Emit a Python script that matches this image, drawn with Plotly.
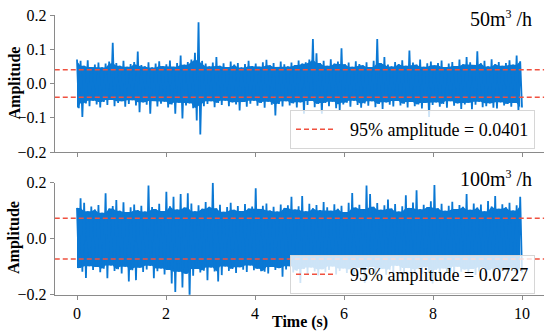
import numpy as np
import plotly.graph_objects as go

# ---------------- data ----------------
duration = 10.0
amp95 = [0.0401, 0.0727]
flow_labels = ["50m<sup><span style='font-size:12px'>3</span></sup> /h",
               "100m<sup><span style='font-size:12px'>3</span></sup> /h"]
x_ticks = [0, 2, 4, 6, 8, 10]
y_ticks_top = [-0.2, -0.1, 0.0, 0.1, 0.2]
y_ticks_bottom = [-0.2, 0.0, 0.2]

# successive positive / negative excursions of the 50 m3/h signal
top_upper = [
    0.070, 0.066, 0.052, 0.068, 0.048, 0.055, 0.061, 0.047, 0.058, 0.064,
    0.119, 0.060, 0.052, 0.066, 0.049, 0.057, 0.063, 0.093, 0.054, 0.050,
    0.062, 0.047, 0.058, 0.065, 0.051, 0.056, 0.067, 0.049, 0.060, 0.082,
    0.055, 0.063, 0.070, 0.090, 0.179, 0.066, 0.058, 0.050, 0.061, 0.077,
    0.052, 0.059, 0.048, 0.064, 0.055, 0.060, 0.047, 0.057, 0.066, 0.051,
    0.058, 0.049, 0.062, 0.069, 0.053, 0.060, 0.048, 0.064, 0.056, 0.050,
    0.061, 0.054, 0.067, 0.058, 0.062, 0.070, 0.130, 0.088, 0.060, 0.066,
    0.052, 0.071, 0.058, 0.064, 0.103, 0.056, 0.061, 0.049, 0.065, 0.057,
    0.053, 0.062, 0.048, 0.066, 0.130, 0.060, 0.077, 0.055, 0.050, 0.063,
    0.057, 0.068, 0.052, 0.096, 0.061, 0.055, 0.070, 0.049, 0.059, 0.064,
    0.053, 0.060, 0.067, 0.048, 0.058, 0.063, 0.051, 0.070, 0.056, 0.077,
    0.062, 0.054, 0.094, 0.059, 0.066, 0.050, 0.071, 0.057, 0.063, 0.052,
    0.060, 0.068, 0.055, 0.082, 0.065,
]
top_lower = [
    -0.072, -0.098, -0.058, -0.066, -0.050, -0.061, -0.070, -0.054, -0.063, -0.048,
    -0.066, -0.057, -0.052, -0.068, -0.060, -0.049, -0.064, -0.084, -0.055, -0.062,
    -0.088, -0.051, -0.067, -0.059, -0.053, -0.070, -0.061, -0.088, -0.056, -0.102,
    -0.064, -0.058, -0.072, -0.108, -0.149, -0.066, -0.060, -0.052, -0.069, -0.057,
    -0.063, -0.050, -0.066, -0.055, -0.061, -0.079, -0.054, -0.068, -0.059, -0.050,
    -0.065, -0.057, -0.071, -0.053, -0.062, -0.093, -0.060, -0.067, -0.052, -0.064,
    -0.058, -0.070, -0.055, -0.088, -0.063, -0.051, -0.069, -0.060, -0.088, -0.057,
    -0.066, -0.053, -0.072, -0.079, -0.061, -0.056, -0.068, -0.050, -0.063, -0.071,
    -0.058, -0.065, -0.052, -0.069, -0.060, -0.074, -0.055, -0.062, -0.067, -0.051,
    -0.064, -0.059, -0.070, -0.054, -0.066, -0.061, -0.073, -0.057, -0.098, -0.063,
    -0.055, -0.068, -0.060, -0.071, -0.052, -0.065, -0.058, -0.074, -0.061, -0.056,
    -0.075, -0.062, -0.053, -0.069, -0.066, -0.058, -0.071, -0.073, -0.055, -0.064,
    -0.060, -0.068, -0.057, -0.080, -0.070,
]
# successive positive / negative excursions of the 100 m3/h signal
bottom_upper = [
    0.110, 0.144, 0.128, 0.098, 0.115, 0.104, 0.120, 0.093, 0.162, 0.108,
    0.117, 0.138, 0.100, 0.130, 0.095, 0.112, 0.122, 0.102, 0.118, 0.097,
    0.190, 0.113, 0.106, 0.125, 0.099, 0.168, 0.116, 0.150, 0.104, 0.160,
    0.111, 0.162, 0.126, 0.098, 0.119, 0.107, 0.131, 0.114, 0.200, 0.109,
    0.121, 0.096, 0.113, 0.128, 0.103, 0.117, 0.099, 0.124, 0.108, 0.115,
    0.180, 0.106, 0.118, 0.126, 0.101, 0.114, 0.097, 0.122, 0.110, 0.119,
    0.150, 0.104, 0.116, 0.152, 0.098, 0.125, 0.109, 0.120, 0.102, 0.131,
    0.112, 0.100, 0.123, 0.107, 0.118, 0.095, 0.128, 0.163, 0.111, 0.121,
    0.106, 0.190, 0.160, 0.114, 0.127, 0.103, 0.119, 0.140, 0.108, 0.124,
    0.097, 0.116, 0.155, 0.110, 0.129, 0.173, 0.105, 0.121, 0.113, 0.134,
    0.192, 0.109, 0.125, 0.100, 0.118, 0.132, 0.106, 0.120, 0.114, 0.160,
    0.103, 0.126, 0.111, 0.122, 0.098, 0.135, 0.115, 0.152, 0.107, 0.123,
    0.112, 0.128, 0.101, 0.119, 0.150,
]
bottom_lower = [
    -0.105, -0.118, -0.140, -0.098, -0.112, -0.101, -0.120, -0.107, -0.141, -0.096,
    -0.115, -0.109, -0.124, -0.100, -0.153, -0.113, -0.148, -0.104, -0.119, -0.110,
    -0.097, -0.141, -0.116, -0.106, -0.128, -0.112, -0.160, -0.190, -0.118, -0.174,
    -0.125, -0.210, -0.132, -0.108, -0.121, -0.114, -0.148, -0.103, -0.117, -0.153,
    -0.130, -0.099, -0.115, -0.108, -0.122, -0.102, -0.111, -0.119, -0.096, -0.113,
    -0.107, -0.116, -0.118, -0.124, -0.101, -0.112, -0.105, -0.136, -0.110, -0.098,
    -0.121, -0.114, -0.158, -0.108, -0.126, -0.103, -0.117, -0.131, -0.109, -0.120,
    -0.112, -0.099, -0.128, -0.115, -0.106, -0.122, -0.110, -0.134, -0.104, -0.118,
    -0.158, -0.113, -0.101, -0.125, -0.116, -0.107, -0.129, -0.111, -0.120, -0.097,
    -0.114, -0.123, -0.105, -0.132, -0.118, -0.109, -0.126, -0.102, -0.119, -0.160,
    -0.112, -0.127, -0.106, -0.121, -0.115, -0.133, -0.100, -0.118, -0.110, -0.124,
    -0.108, -0.130, -0.117, -0.103, -0.122, -0.113, -0.128, -0.107, -0.119, -0.111,
    -0.125, -0.104, -0.116, -0.109, -0.121,
]

# ---------------- styling ----------------
FONT = "Liberation Serif"
BLUE = "#0a78d4"
RED = "#f0513f"
SPINE = "#8a8a8a"


def interleave(up, lo):
    y = np.empty(len(up) + len(lo))
    y[0::2] = up
    y[1::2] = lo
    t = np.linspace(0, duration, len(y))
    return t, y


def core(vals, fn):
    v = np.asarray(vals)
    prev = np.concatenate([v[:1], v[:-1]])
    nxt = np.concatenate([v[1:], v[-1:]])
    return fn(fn(v, prev), nxt)


fig = go.Figure()
panels = [
    (top_upper, top_lower, "x", "y", "legend"),
    (bottom_upper, bottom_lower, "x2", "y2", "legend2"),
]
for k, (up, lo, xa, ya, lg) in enumerate(panels):
    t, y = interleave(up, lo)
    # dense core of the signal (where the trace overlaps itself)
    fig.add_trace(go.Scatter(x=t[0::2], y=core(lo, np.maximum), mode="lines",
                             xaxis=xa, yaxis=ya, line=dict(width=0, color=BLUE),
                             showlegend=False, hoverinfo="skip"))
    fig.add_trace(go.Scatter(x=t[0::2], y=core(up, np.minimum), mode="lines",
                             xaxis=xa, yaxis=ya, line=dict(width=0, color=BLUE),
                             fill="tonexty", fillcolor=BLUE,
                             showlegend=False, hoverinfo="skip"))
    fig.add_trace(go.Scatter(x=t, y=y, mode="lines", xaxis=xa, yaxis=ya,
                             line=dict(color=BLUE, width=1.8, simplify=False),
                             showlegend=False, hoverinfo="skip"))
    a = amp95[k]
    for sgn in (1, -1):
        fig.add_trace(go.Scatter(
            x=[-0.5, duration + 0.5], y=[sgn * a, sgn * a], mode="lines",
            xaxis=xa, yaxis=ya, legend=lg,
            line=dict(color=RED, width=1.5, dash="5px,3px"),
            name=f"\u00a0\u00a095% amplitude = {a:.4f}",
            showlegend=(sgn == 1)))

xdom = [54.75 / 550, 544.25 / 550]
common_x = dict(range=[-0.5, duration + 0.5], domain=xdom, showline=True,
                linecolor=SPINE, linewidth=1.2, ticks="outside", ticklen=4,
                tickcolor=SPINE, tickvals=x_ticks, showgrid=False, automargin=False,
                zeroline=False, tickfont=dict(family=FONT, size=16, color="black"))
common_y = dict(range=[-0.2, 0.2], showline=True, linecolor=SPINE, linewidth=1.2,
                ticks="outside", ticklen=4, tickcolor=SPINE, showgrid=False,
                zeroline=False, tickformat=".1f", automargin=False,
                tickfont=dict(family=FONT, size=16, color="black"))

legend_common = dict(bgcolor="rgba(255,255,255,0.8)", bordercolor="#d6d6d6",
                     borderwidth=1, font=dict(family=FONT, size=18, color="black"),
                     xanchor="right", yanchor="top", itemwidth=40,
                     x=535 / 550)

fig.update_layout(
    template="none",
    width=550, height=334,
    margin=dict(l=0, r=0, t=0, b=0, autoexpand=False),
    paper_bgcolor="white", plot_bgcolor="white",
    font=dict(family=FONT, color="black"),
    xaxis=dict(common_x, anchor="y", showticklabels=False),
    xaxis2=dict(common_x, anchor="y2", showticklabels=True),
    yaxis=dict(common_y, anchor="x", domain=[1 - 152 / 334, 1 - 15 / 334],
               tickvals=y_ticks_top),
    yaxis2=dict(common_y, anchor="x2", domain=[1 - 294.7 / 334, 1 - 182.7 / 334],
                tickvals=y_ticks_bottom),
    legend=dict(legend_common, y=1 - 110 / 334),
    legend2=dict(legend_common, y=1 - 255 / 334),
)

annotations = [
    dict(text=flow_labels[0], x=534 / 550, y=1 - 19 / 334),
    dict(text=flow_labels[1], x=534 / 550, y=1 - 178 / 334),
]
for an in annotations:
    fig.add_annotation(xref="paper", yref="paper", xanchor="right", yanchor="middle",
                       showarrow=False, font=dict(family=FONT, size=20, color="black"),
                       **an)
for yc in (83.5, 238):
    fig.add_annotation(text="<b>Amplitude</b>", xref="paper", yref="paper",
                       x=14 / 550, y=1 - yc / 334, textangle=-90, showarrow=False,
                       xanchor="center", yanchor="middle",
                       font=dict(family=FONT, size=16, color="black"))
fig.add_annotation(text="<b>Time (s)</b>", xref="paper", yref="paper",
                   x=300 / 550, y=1 - 321.5 / 334, showarrow=False,
                   xanchor="center", yanchor="middle",
                   font=dict(family=FONT, size=16, color="black"))

fig.write_html("out.html",
               config={"displayModeBar": False},
               post_script="document.body.style.margin='0';"
                           "document.body.style.overflow='hidden';")
